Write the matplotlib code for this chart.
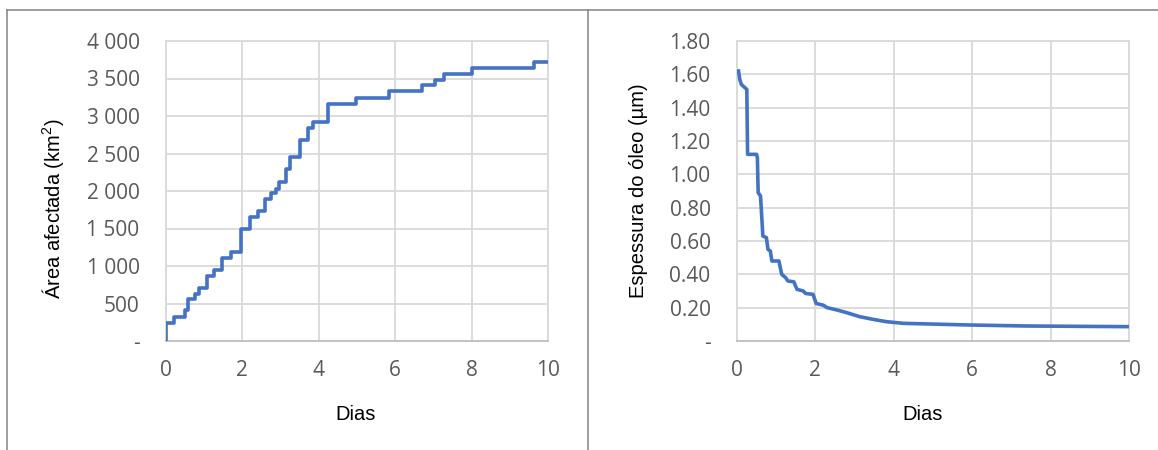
import numpy as np
import matplotlib.pyplot as plt
from matplotlib.lines import Line2D

# Área afectada (km2) - step curve, value holds from each time on
area_dias = [0, 0, 0.21, 0.50, 0.58, 0.76, 0.86, 1.07, 1.25, 1.47, 1.71, 1.96,
             2.21, 2.40, 2.60, 2.75, 2.87, 2.95, 3.14, 3.24, 3.51, 3.71, 3.85,
             4.23, 4.97, 5.85, 6.69, 7.03, 7.28, 8.00, 9.64, 10]
area_km2 = [0, 240, 320, 410, 555, 630, 710, 870, 950, 1105, 1185, 1500,
            1650, 1740, 1900, 1970, 2030, 2120, 2300, 2450, 2685, 2845, 2920,
            3155, 3245, 3330, 3410, 3485, 3565, 3640, 3720, 3720]

# Espessura do óleo (um) - repeated times give the vertical drops
esp_dias = [0.04, 0.07, 0.11, 0.20, 0.25, 0.27, 0.50, 0.52, 0.54, 0.60, 0.66,
            0.75, 0.79, 0.85, 0.89, 1.07, 1.14, 1.24, 1.30, 1.45, 1.53, 1.69,
            1.75, 1.94, 2.02, 2.20, 2.30, 2.55, 2.80, 3.13, 3.47, 3.81, 4.24,
            5.94, 7.38, 10]
esp_um = [1.62, 1.57, 1.54, 1.52, 1.51, 1.12, 1.12, 1.10, 0.89, 0.87, 0.63,
          0.62, 0.55, 0.54, 0.48, 0.48, 0.40, 0.38, 0.36, 0.355, 0.31, 0.30,
          0.285, 0.28, 0.225, 0.215, 0.20, 0.186, 0.17, 0.146, 0.13, 0.116,
          0.106, 0.096, 0.09, 0.086]

area_ticks = np.arange(0, 4001, 500)
area_labels = ['-', '500', '1 000', '1 500', '2 000', '2 500', '3 000', '3 500', '4 000']
esp_ticks = np.arange(0, 1.81, 0.2)
esp_labels = ['-', '0.20', '0.40', '0.60', '0.80', '1.00', '1.20', '1.40', '1.60', '1.80']

azul = '#4472C4'
grelha = '#d9d9d9'
cinza_txt = '#595959'
tick_font = 'Open Sans'
titulo_font = 'Liberation Sans'

plt.rcParams['mathtext.fontset'] = 'custom'
plt.rcParams['mathtext.rm'] = 'Liberation Sans'
plt.rcParams['mathtext.it'] = 'Liberation Sans'

fig = plt.figure(figsize=(11.58, 4.5), dpi=100)

# frames of the two chart objects
W, H = 1158, 450
def fx(p):
    return p / W
def fy(p):
    return 1 - p / H
borda = '#8c8c8c'
fig.add_artist(Line2D([fx(6.5), fx(6.5)], [fy(10), 0], color=borda, lw=1.2))
fig.add_artist(Line2D([fx(6.5), fx(588)], [fy(10), fy(10)], color=borda, lw=1.2))
fig.add_artist(Line2D([fx(588), fx(588)], [fy(9.5), 0], color=borda, lw=1.2))
fig.add_artist(Line2D([fx(588), 1], [fy(9.5), fy(9.5)], color=borda, lw=1.2))

ax1 = fig.add_axes([166 / W, 109 / H, 382 / W, 300 / H])
ax2 = fig.add_axes([737 / W, 109 / H, 392 / W, 300 / H])

ax1.plot(area_dias, area_km2, drawstyle='steps-post', color=azul, lw=2.6,
         zorder=3)
ax2.plot(esp_dias, esp_um, color=azul, lw=2.6, zorder=3)

for ax, yt, yl, ymax in [(ax1, area_ticks, area_labels, 4000),
                         (ax2, esp_ticks, esp_labels, 1.8)]:
    ax.set_xlim(0, 10)
    ax.set_ylim(0, ymax)
    ax.set_xticks(np.arange(0, 11, 2))
    ax.set_yticks(yt)
    ax.set_yticklabels(yl)
    ax.grid(True, color=grelha, lw=1.3, zorder=0)
    ax.tick_params(length=0, labelsize=15, labelcolor=cinza_txt)
    ax.tick_params(axis='y', pad=19)
    ax.tick_params(axis='x', pad=14)
    for lab in ax.get_xticklabels() + ax.get_yticklabels():
        lab.set_fontfamily(tick_font)
    for s in ['left', 'right', 'top']:
        ax.spines[s].set_color(grelha)
        ax.spines[s].set_linewidth(1.3)
    ax.spines['bottom'].set_color('#bfbfbf')
    ax.spines['bottom'].set_linewidth(1.3)
    ax.set_xlabel('Dias', fontsize=14.5, family=titulo_font, color='black')

ax1.set_ylabel('Área afectada (km$^{2}$)', fontsize=14.5, family=titulo_font, color='black')
ax2.set_ylabel('Espessura do óleo (µm)', fontsize=14.5, family=titulo_font, color='black')

ax1.yaxis.set_label_coords(-0.262, 0.44)
ax2.yaxis.set_label_coords(-0.227, 0.5)
ax1.xaxis.set_label_coords(0.497, -0.213)
ax2.xaxis.set_label_coords(0.474, -0.213)

plt.savefig('out.png', dpi=100)
